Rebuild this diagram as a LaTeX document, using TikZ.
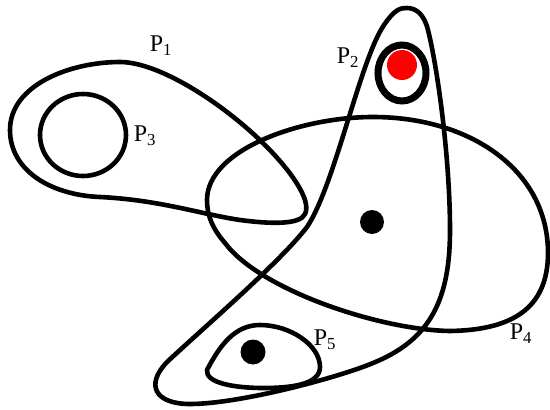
\documentclass[tikz,border=0pt]{standalone}
\usepackage{fontspec}
\setmainfont{Liberation Serif}
\usepackage{tikz}
\usetikzlibrary{positioning}
\tikzset{every picture/.style={line width=0.75pt},
  loopline/.style={line width=4.6pt,line join=round},
  lbl/.style={font=\fontsize{24}{26}\selectfont,inner sep=1pt},
  blackdot/.style={fill=black},
}

\begin{document}
\begin{tikzpicture}[x=1pt,y=-1pt]
    \useasboundingbox (0,0) rectangle (550,410);
    % P1
    \draw[loopline] (120,62) .. controls (160,62) and (225,105) .. (265,145)
      .. controls (290,170) and (312,200) .. (305,214)
      .. controls (300,225) and (270,224) .. (240,220)
      .. controls (200,214) and (160,200) .. (100,197)
      .. controls (50,195) and (10,170) .. (10,130)
      .. controls (10,85) and (70,62) .. (120,62) -- cycle;
    % P3
    \draw[loopline] (83,135) ellipse (43 and 41);
    % P4
    \draw[loopline] (207,200) .. controls (207,150) and (300,117) .. (373,117)
      .. controls (470,117) and (548,170) .. (548,253)
      .. controls (548,310) and (510,330) .. (450,331)
      .. controls (380,330) and (260,290) .. (225,243)
      .. controls (212,228) and (207,215) .. (207,200) -- cycle;
    % P2
    \draw[loopline] (307,227) .. controls (335,185) and (360,60) .. (384,25)
      .. controls (395,9) and (400,8) .. (407,8)
      .. controls (416,8) and (424,14) .. (428,30)
      .. controls (438,70) and (450,160) .. (450,230)
      .. controls (450,300) and (430,340) .. (373,363)
      .. controls (340,377) and (240,404) .. (190,404)
      .. controls (155,404) and (145,385) .. (167,362)
      .. controls (210,322) and (280,262) .. (307,227) -- cycle;
    % P5
    \draw[loopline] (207,370) .. controls (220,345) and (235,325) .. (260,325)
      .. controls (290,325) and (320,345) .. (320,367)
      .. controls (320,385) and (290,388) .. (263,388)
      .. controls (235,388) and (205,383) .. (207,370) -- cycle;
    % Punkte
    \fill[red] (402,65) circle (15);
    \draw[line width=7pt] (402,73) ellipse (24 and 28);
    \fill[blackdot] (372,222) circle (12);
    \fill[blackdot] (253,352) circle (12.5);
    % Beschriftung
    \node[lbl] (p1) at (161,46) {P\textsubscript{1}};
    \node[lbl] (p2) at (348,58) {P\textsubscript{2}};
    \node[lbl] (p3) at (145,136) {P\textsubscript{3}};
    \node[lbl] (p4) at (521,334) {P\textsubscript{4}};
    \node[lbl] (p5) at (325,340) {P\textsubscript{5}};
\end{tikzpicture}
\end{document}
